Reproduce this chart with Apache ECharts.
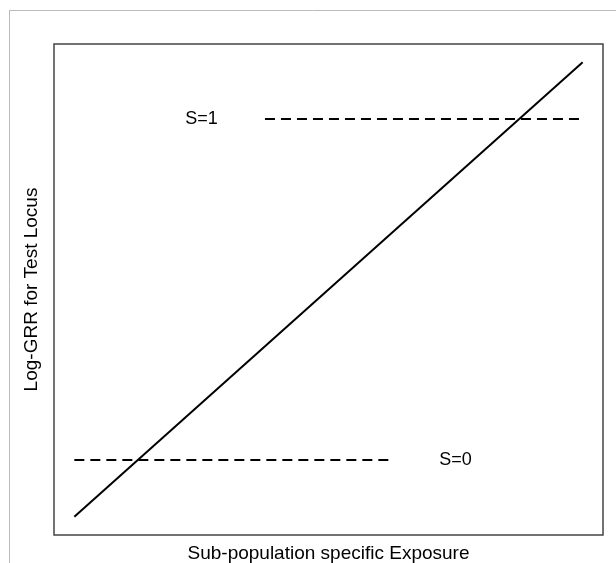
<!DOCTYPE html>
<html>
<head>
<meta charset="utf-8">
<script src="https://cdn.jsdelivr.net/npm/echarts@6/dist/echarts.min.js"></script>
<style>
  html, body { margin: 0; padding: 0; background: #fff; }
  #chart { width: 616px; height: 563px; }
</style>
</head>
<body>
<div id="chart"></div>
<script>
// values (unit square, R-style 4% padding)
const diagX = [0, 1]
const diagY = [0, 1]
const s1X = [0.375, 1]
const s1Y = [0.875, 0.875]
const s0X = [0, 0.625]
const s0Y = [0.125, 0.125]
const labelNames = ['S=1', 'S=0']
const labelX = [0.25, 0.75]
const labelY = [0.875, 0.125]

const xTitle = 'Sub-population specific Exposure'
const yTitle = 'Log-GRR for Test Locus'

const font = 'Liberation Sans, Arial, Helvetica, sans-serif'

const chart = echarts.init(document.getElementById('chart'))

const pairs = (xs, ys) => xs.map((x, i) => [x, ys[i]])

const lineSeries = (data, dashed) => ({
  type: 'line',
  data,
  symbol: 'none',
  silent: true,
  animation: false,
  lineStyle: {
    color: '#000',
    width: 2,
    type: dashed ? [10, 6] : 'solid'
  }
})

const option = {
  animation: false,
  grid: {
    left: 54,
    right: 13,
    top: 44,
    bottom: 28,
    outerBoundsMode: 'none',
    containLabel: false,
    show: true,
    borderColor: '#444',
    borderWidth: 1.5
  },
  xAxis: {
    type: 'value',
    min: -0.04,
    max: 1.04,
    name: xTitle,
    nameLocation: 'middle',
    nameGap: 9,
    nameTextStyle: { fontFamily: font, fontSize: 19, color: '#000', verticalAlign: 'top' },
    axisLine: { show: false },
    axisTick: { show: false },
    axisLabel: { show: false },
    splitLine: { show: false }
  },
  yAxis: {
    type: 'value',
    min: -0.04,
    max: 1.04,
    name: yTitle,
    nameLocation: 'middle',
    nameGap: 13,
    nameTextStyle: { fontFamily: font, fontSize: 19, color: '#000' },
    axisLine: { show: false },
    axisTick: { show: false },
    axisLabel: { show: false },
    splitLine: { show: false }
  },
  graphic: [
    {
      type: 'line',
      shape: { x1: 9, y1: 10.5, x2: 616, y2: 10.5 },
      style: { stroke: '#bbb', lineWidth: 1 },
      silent: true
    },
    {
      type: 'line',
      shape: { x1: 9.5, y1: 10, x2: 9.5, y2: 563 },
      style: { stroke: '#bbb', lineWidth: 1 },
      silent: true
    }
  ],
  series: [
    lineSeries(pairs(diagX, diagY), false),
    lineSeries(pairs(s1X, s1Y), true),
    lineSeries(pairs(s0X, s0Y), true),
    {
      type: 'scatter',
      symbolSize: 0,
      silent: true,
      itemStyle: { opacity: 1, color: '#000' },
      data: labelNames.map((n, i) => ({ name: n, value: [labelX[i], labelY[i]] })),
      label: {
        show: true,
        position: 'inside',
        formatter: p => p.name,
        fontFamily: font,
        fontSize: 18,
        color: '#000',
        opacity: 1,
        textBorderWidth: 0
      }
    }
  ]
}

chart.setOption(option)
</script>
</body>
</html>
